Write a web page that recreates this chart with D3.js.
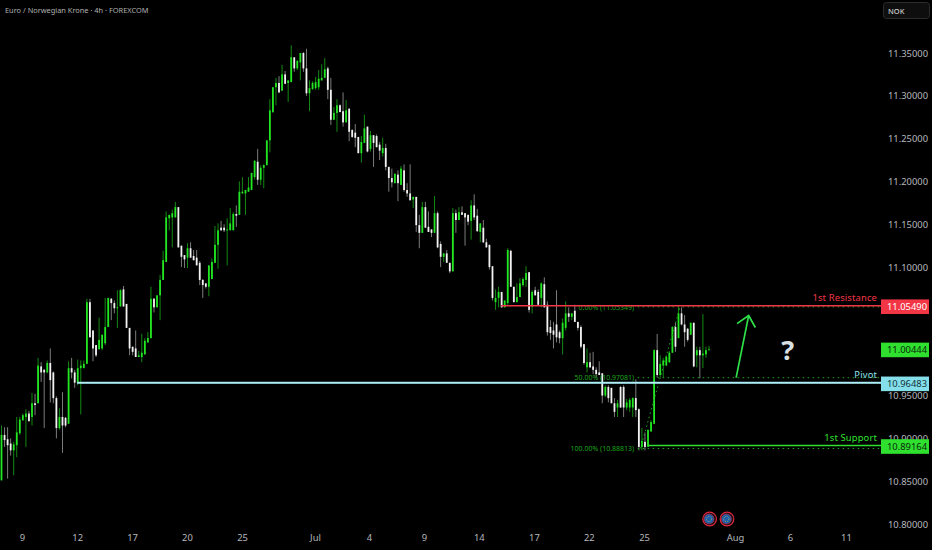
<!DOCTYPE html>
<html><head><meta charset="utf-8">
<script src="https://d3js.org/d3.v7.min.js"></script>
<style>html,body{margin:0;padding:0;background:#000;overflow:hidden}svg{display:block}text{font-family:"Noto Sans",sans-serif}</style>
</head><body><svg id="c" width="932" height="550"></svg>
<script>
const opens=[10.851,10.904,10.899,10.894,10.886,10.892,10.906,10.921,10.925,10.929,10.925,10.941,10.941,10.984,10.980,10.977,10.988,10.977,10.947,10.912,10.925,10.924,10.917,10.982,10.977,10.965,10.982,10.982,10.987,11.059,11.026,11.009,11.004,11.005,11.011,11.030,11.063,11.058,11.052,11.054,11.074,11.057,11.029,11.007,11.005,10.995,10.995,10.998,11.012,11.017,11.063,11.053,11.067,11.085,11.106,11.157,11.158,11.158,11.170,11.125,11.114,11.111,11.122,11.113,11.111,11.105,11.085,11.081,11.077,11.086,11.105,11.126,11.146,11.146,11.143,11.143,11.143,11.162,11.161,11.186,11.186,11.188,11.190,11.205,11.223,11.202,11.216,11.219,11.248,11.281,11.310,11.315,11.306,11.325,11.315,11.316,11.345,11.332,11.339,11.350,11.332,11.303,11.308,11.309,11.310,11.318,11.321,11.332,11.307,11.272,11.280,11.289,11.282,11.269,11.285,11.260,11.257,11.252,11.233,11.245,11.264,11.238,11.254,11.253,11.243,11.233,11.239,11.217,11.204,11.198,11.208,11.196,11.213,11.190,11.186,11.179,11.182,11.149,11.140,11.170,11.147,11.144,11.140,11.163,11.127,11.112,11.116,11.105,11.095,11.163,11.155,11.164,11.163,11.161,11.154,11.172,11.160,11.141,11.146,11.129,11.126,11.101,11.059,11.064,11.071,11.053,11.058,11.119,11.077,11.059,11.065,11.079,11.085,11.094,11.054,11.073,11.071,11.064,11.080,11.056,11.030,11.026,11.033,11.024,11.017,11.029,11.046,11.042,11.049,11.036,11.030,11.010,10.983,10.989,10.984,10.980,10.977,10.976,10.950,10.960,10.959,10.941,10.936,10.960,10.960,10.936,10.936,10.936,10.947,10.934,10.890,10.896,10.890,10.908,10.917,11.003,10.974,10.985,10.985,10.989,11.000,11.030,11.017,11.046,11.033,11.028,11.021,11.035,10.997,11.003,10.997,10.998,11.003];
const highs=[10.915,10.913,10.913,10.900,10.896,10.925,10.925,10.929,10.934,10.932,10.953,10.952,10.994,10.989,10.981,10.991,11.005,10.978,10.949,10.935,10.954,10.925,10.990,10.994,10.980,10.992,10.991,10.991,11.063,11.063,11.026,11.009,11.041,11.021,11.064,11.064,11.064,11.061,11.073,11.074,11.078,11.057,11.029,11.007,11.026,11.002,11.022,11.017,11.024,11.077,11.064,11.067,11.091,11.119,11.165,11.161,11.167,11.176,11.170,11.125,11.114,11.128,11.129,11.120,11.120,11.107,11.086,11.081,11.102,11.110,11.148,11.151,11.154,11.150,11.157,11.169,11.164,11.172,11.200,11.205,11.190,11.205,11.210,11.225,11.238,11.219,11.220,11.248,11.296,11.310,11.321,11.323,11.336,11.329,11.318,11.359,11.345,11.341,11.350,11.351,11.355,11.318,11.317,11.322,11.330,11.337,11.344,11.334,11.321,11.287,11.296,11.290,11.304,11.295,11.285,11.261,11.267,11.252,11.253,11.278,11.264,11.259,11.254,11.255,11.246,11.251,11.244,11.217,11.215,11.209,11.213,11.218,11.220,11.198,11.220,11.182,11.182,11.161,11.176,11.176,11.165,11.144,11.183,11.165,11.130,11.116,11.120,11.105,11.169,11.167,11.170,11.171,11.163,11.161,11.178,11.185,11.168,11.151,11.155,11.133,11.126,11.101,11.074,11.077,11.071,11.061,11.122,11.120,11.077,11.081,11.087,11.088,11.101,11.094,11.073,11.077,11.074,11.082,11.088,11.060,11.038,11.036,11.073,11.026,11.040,11.060,11.053,11.046,11.056,11.036,11.032,11.010,11.005,11.000,11.001,10.983,10.990,10.976,10.962,10.962,10.959,10.947,10.945,10.961,10.962,10.946,10.947,10.948,10.969,10.935,10.912,10.907,10.910,10.921,11.004,11.022,10.997,10.994,10.997,11.002,11.031,11.035,11.053,11.053,11.044,11.029,11.035,11.035,11.007,11.007,11.045,11.007,11.008];
const lows=[10.851,10.890,10.853,10.880,10.857,10.878,10.904,10.921,10.890,10.920,10.915,10.927,10.941,10.966,10.912,10.976,10.942,10.941,10.900,10.910,10.883,10.913,10.917,10.970,10.959,10.962,10.928,10.982,10.987,11.018,10.990,10.995,11.004,11.003,11.009,11.030,11.038,11.046,11.029,11.054,11.054,11.029,10.997,10.997,10.995,10.995,10.989,10.998,11.012,11.017,11.047,11.053,11.038,11.085,11.106,11.143,11.123,11.158,11.123,11.100,11.099,11.099,11.111,11.108,11.102,11.079,11.064,11.075,11.066,11.086,11.105,11.098,11.142,11.141,11.102,11.143,11.143,11.147,11.161,11.186,11.161,11.188,11.190,11.202,11.196,11.196,11.192,11.219,11.234,11.280,11.289,11.303,11.306,11.314,11.293,11.316,11.328,11.330,11.318,11.328,11.300,11.282,11.307,11.307,11.307,11.318,11.321,11.296,11.266,11.272,11.258,11.281,11.264,11.269,11.247,11.251,11.240,11.233,11.222,11.245,11.234,11.235,11.217,11.240,11.225,11.229,11.213,11.188,11.193,11.198,11.177,11.196,11.188,11.182,11.178,11.169,11.141,11.122,11.140,11.146,11.141,11.135,11.140,11.122,11.100,11.106,11.105,11.093,11.095,11.140,11.155,11.161,11.125,11.149,11.132,11.155,11.141,11.129,11.128,11.123,11.097,11.061,11.050,11.053,11.053,11.053,11.056,11.077,11.059,11.059,11.065,11.077,11.077,11.047,11.046,11.067,11.056,11.053,11.053,11.020,11.015,11.005,11.012,11.011,10.998,11.026,11.036,11.038,11.036,11.026,11.005,10.986,10.977,10.982,10.975,10.971,10.974,10.941,10.948,10.942,10.941,10.925,10.925,10.936,10.925,10.933,10.931,10.925,10.925,10.886,10.886,10.886,10.890,10.908,10.917,10.971,10.971,10.971,10.985,10.988,11.000,11.001,11.017,11.032,11.007,11.013,11.021,10.983,10.983,10.970,10.982,10.994,11.003];
const closes=[10.904,10.898,10.892,10.886,10.893,10.907,10.922,10.927,10.929,10.920,10.941,10.939,10.985,10.977,10.977,10.988,10.968,10.947,10.912,10.925,10.915,10.915,10.982,10.977,10.965,10.982,10.985,10.987,11.059,11.018,11.005,10.997,11.015,11.021,11.030,11.064,11.058,11.052,11.053,11.073,11.054,11.029,11.005,11.001,10.995,10.997,11.000,11.014,11.017,11.063,11.053,11.067,11.085,11.108,11.158,11.161,11.163,11.170,11.123,11.112,11.109,11.122,11.111,11.108,11.102,11.085,11.079,11.077,11.102,11.106,11.126,11.143,11.143,11.143,11.144,11.151,11.162,11.160,11.188,11.188,11.190,11.193,11.210,11.224,11.202,11.216,11.219,11.248,11.283,11.310,11.315,11.304,11.325,11.314,11.318,11.345,11.332,11.341,11.350,11.332,11.303,11.309,11.315,11.316,11.320,11.321,11.331,11.307,11.272,11.280,11.289,11.281,11.269,11.283,11.258,11.252,11.251,11.233,11.246,11.262,11.235,11.254,11.245,11.240,11.236,11.239,11.217,11.204,11.199,11.209,11.198,11.215,11.190,11.186,11.178,11.182,11.149,11.140,11.170,11.146,11.141,11.140,11.163,11.123,11.112,11.116,11.105,11.095,11.163,11.155,11.164,11.161,11.158,11.153,11.172,11.158,11.142,11.151,11.129,11.123,11.100,11.064,11.064,11.071,11.053,11.061,11.120,11.077,11.059,11.065,11.081,11.086,11.093,11.050,11.071,11.067,11.056,11.081,11.053,11.024,11.023,11.021,11.018,11.017,11.035,11.046,11.042,11.046,11.036,11.029,11.007,10.988,10.989,10.983,10.980,10.975,10.974,10.950,10.960,10.947,10.941,10.931,10.941,10.936,10.936,10.942,10.945,10.947,10.933,10.890,10.897,10.890,10.910,10.919,11.003,10.974,10.987,10.991,10.995,11.000,11.030,11.007,11.046,11.033,11.024,11.015,11.035,10.984,11.003,10.997,10.999,11.003,11.004];

const priceTicks=[11.35,11.30,11.25,11.20,11.15,11.10,10.95,10.90,10.85,10.80];
const dayLabels=["9","12","17","20","25","Jul","4","9","14","17","22","25","Aug","6","11"];
const dayBars=[6.7,24.8,42.8,60.8,78.9,102.8,120.5,138.5,156.5,174.6,192.6,210.7,240.5,258.5,276.9];

const fibLabels=["0.00% (11.05349)","50.00% (10.97081)","100.00% (10.88813)"];
const fibPrices=[11.05349,10.97081,10.88813];
const levelNames=["1st Resistance","Pivot","1st Support"];
const levelPrices=[11.0549,10.96483,10.89164];
const levelStartBars=[163.8,24.8,212];
const levelColors=["#f23645","#8fe3ee","#2fe02f"];
const lastPrice=11.00444;
const arrowBars=[240.9,245,241.2,247.2];
const arrowPrices=[10.9709,11.0434,11.034,11.0295];
const eventBars=[232.2,237.9];

const upBody="#22e622",upWick="#128a12",downBody="#f2f2f2",downWick="#7c7c7c";
const W=932,H=550,right=881;
const x=d3.scaleLinear().domain([0,288.4]).range([1.5,right]);
const y=d3.scaleLinear().domain([11.35,10.80]).range([53,524]);
const svg=d3.select("#c");
svg.append("rect").attr("width",W).attr("height",H).attr("fill","#000");

const bars=d3.range(opens.length);
const g=svg.append("g");
g.selectAll(".w").data(bars).join("line")
 .attr("x1",i=>x(i)).attr("x2",i=>x(i)).attr("y1",i=>y(highs[i])).attr("y2",i=>y(lows[i]))
 .attr("stroke",i=>closes[i]>=opens[i]?upWick:downWick).attr("stroke-width",1);
g.selectAll(".b").data(bars).join("rect")
 .attr("x",i=>x(i)-.9).attr("width",1.8)
 .attr("y",i=>y(Math.max(opens[i],closes[i])))
 .attr("height",i=>Math.max(1,Math.abs(y(opens[i])-y(closes[i]))))
 .attr("fill",i=>closes[i]>=opens[i]?upBody:downBody);

// fib retracement
const fibCol="#1fa51f";
const fibStartBar=208.6;
const fibTrend=[[209.5,10.88813],[222.5,11.05349]];
svg.append("line").attr("x1",x(fibTrend[0][0])).attr("y1",y(fibTrend[0][1])).attr("x2",x(fibTrend[1][0])).attr("y2",y(fibTrend[1][1]))
 .attr("stroke",fibCol).attr("stroke-width",1).attr("stroke-dasharray","1.5 3");
fibPrices.forEach((p,k)=>{
 svg.append("line").attr("x1",x(fibStartBar)).attr("x2",right).attr("y1",y(p)).attr("y2",y(p))
  .attr("stroke",fibCol).attr("stroke-width",1).attr("stroke-dasharray","1.5 3.5");
 svg.append("text").attr("x",x(fibStartBar)-3.5).attr("y",y(p)+2.6).attr("text-anchor","end")
  .attr("font-size",7).attr("fill",fibCol).text(fibLabels[k]);
});

// levels
levelPrices.forEach((p,k)=>{
 svg.append("line").attr("x1",x(levelStartBars[k])).attr("x2",right).attr("y1",y(p)).attr("y2",y(p))
  .attr("stroke",levelColors[k]).attr("stroke-width",k==1?2:1.6);
 if(k==1) svg.append("line").attr("x1",x(levelStartBars[k])).attr("x2",right).attr("y1",y(p)).attr("y2",y(p)).attr("stroke","#d8f6f8").attr("stroke-width",.7);
 svg.append("text").attr("x",877).attr("y",y(p)-4.5).attr("text-anchor","end").attr("font-size",9.4).attr("letter-spacing",.15)
  .attr("fill",levelColors[k]).text(levelNames[k]);
});

// arrow and question mark
const ap=arrowBars.map((b,k)=>[x(b),y(arrowPrices[k])]);
const arrow=svg.append("g").attr("stroke","#2fe04a").attr("stroke-width",1.7).attr("fill","none");
arrow.append("line").attr("x1",ap[0][0]).attr("y1",ap[0][1]).attr("x2",ap[1][0]).attr("y2",ap[1][1]);
arrow.append("polyline").attr("points",[ap[2],ap[1],ap[3]].map(d=>d.join(",")).join(" "));
svg.append("text").attr("x",x(258.5)-2).attr("y",y(11.004)+11).attr("text-anchor","middle").attr("font-size",27).attr("font-weight",700).attr("fill","#d9e0e3").text("?");

// event icons
eventBars.forEach(b=>{
 const cx=x(b),cy=519;
 svg.append("circle").attr("cx",cx).attr("cy",cy).attr("r",6.8).attr("fill","#111").attr("stroke","#e2263f").attr("stroke-width",1.2);
 svg.append("circle").attr("cx",cx-.6).attr("cy",cy).attr("r",5).attr("fill","#1c5fa8").attr("stroke","#d8263f").attr("stroke-width",.6);
 svg.append("circle").attr("cx",cx-.6).attr("cy",cy).attr("r",2.6).attr("fill","none").attr("stroke","#d8c24a").attr("stroke-width",.7).attr("stroke-dasharray","1 1.2");
});

// axes
const axisCol="#b4b7bd";
const yAxis=d3.axisRight(y).tickValues(priceTicks).tickFormat(d3.format(".5f")).tickSize(0).tickPadding(0);
const ya=svg.append("g").attr("transform","translate(888,0)").call(yAxis);
ya.select(".domain").remove();
ya.selectAll("text").attr("font-size",9.4).attr("fill",axisCol).attr("font-family",'"Noto Sans",sans-serif');

const xAxis=d3.axisBottom(x).tickValues(dayBars).tickFormat((d,i)=>dayLabels[i]).tickSize(0).tickPadding(0);
const xa=svg.append("g").attr("transform","translate(0,534)").call(xAxis);
xa.select(".domain").remove();
xa.selectAll("text").attr("font-size",9.4).attr("fill",axisCol).attr("font-family",'"Noto Sans",sans-serif');

// price tags
const tags=[[levelPrices[0],"#f23645","#fff"],[lastPrice,"#2fe02f","#0a2a0a"],[levelPrices[1],"#84dfeb","#13343a"],[levelPrices[2],"#2fe02f","#0a2a0a"]];
tags.forEach(t=>{
 const cy=y(t[0])+1;
 svg.append("rect").attr("x",881).attr("y",cy-7.3).attr("width",48).attr("height",14.6).attr("fill",t[1]);
 svg.append("text").attr("x",907).attr("y",cy+3.4).attr("text-anchor","middle").attr("font-size",9.4).attr("fill",t[2]).text(t[0].toFixed(5));
});

// header and currency button
svg.append("text").attr("x",5).attr("y",13).attr("font-size",7.4).attr("fill","#b0b0b0").text("Euro / Norwegian Krone · 4h · FOREXCOM");
svg.append("rect").attr("x",883.5).attr("y",2.5).attr("width",46).attr("height",16).attr("rx",3).attr("fill","#0e0e0e").attr("stroke","#2c2c2c");
svg.append("text").attr("x",888).attr("y",13.5).attr("font-size",7.5).attr("font-weight",500).attr("fill","#c8c8c8").text("NOK");
</script></body></html>
